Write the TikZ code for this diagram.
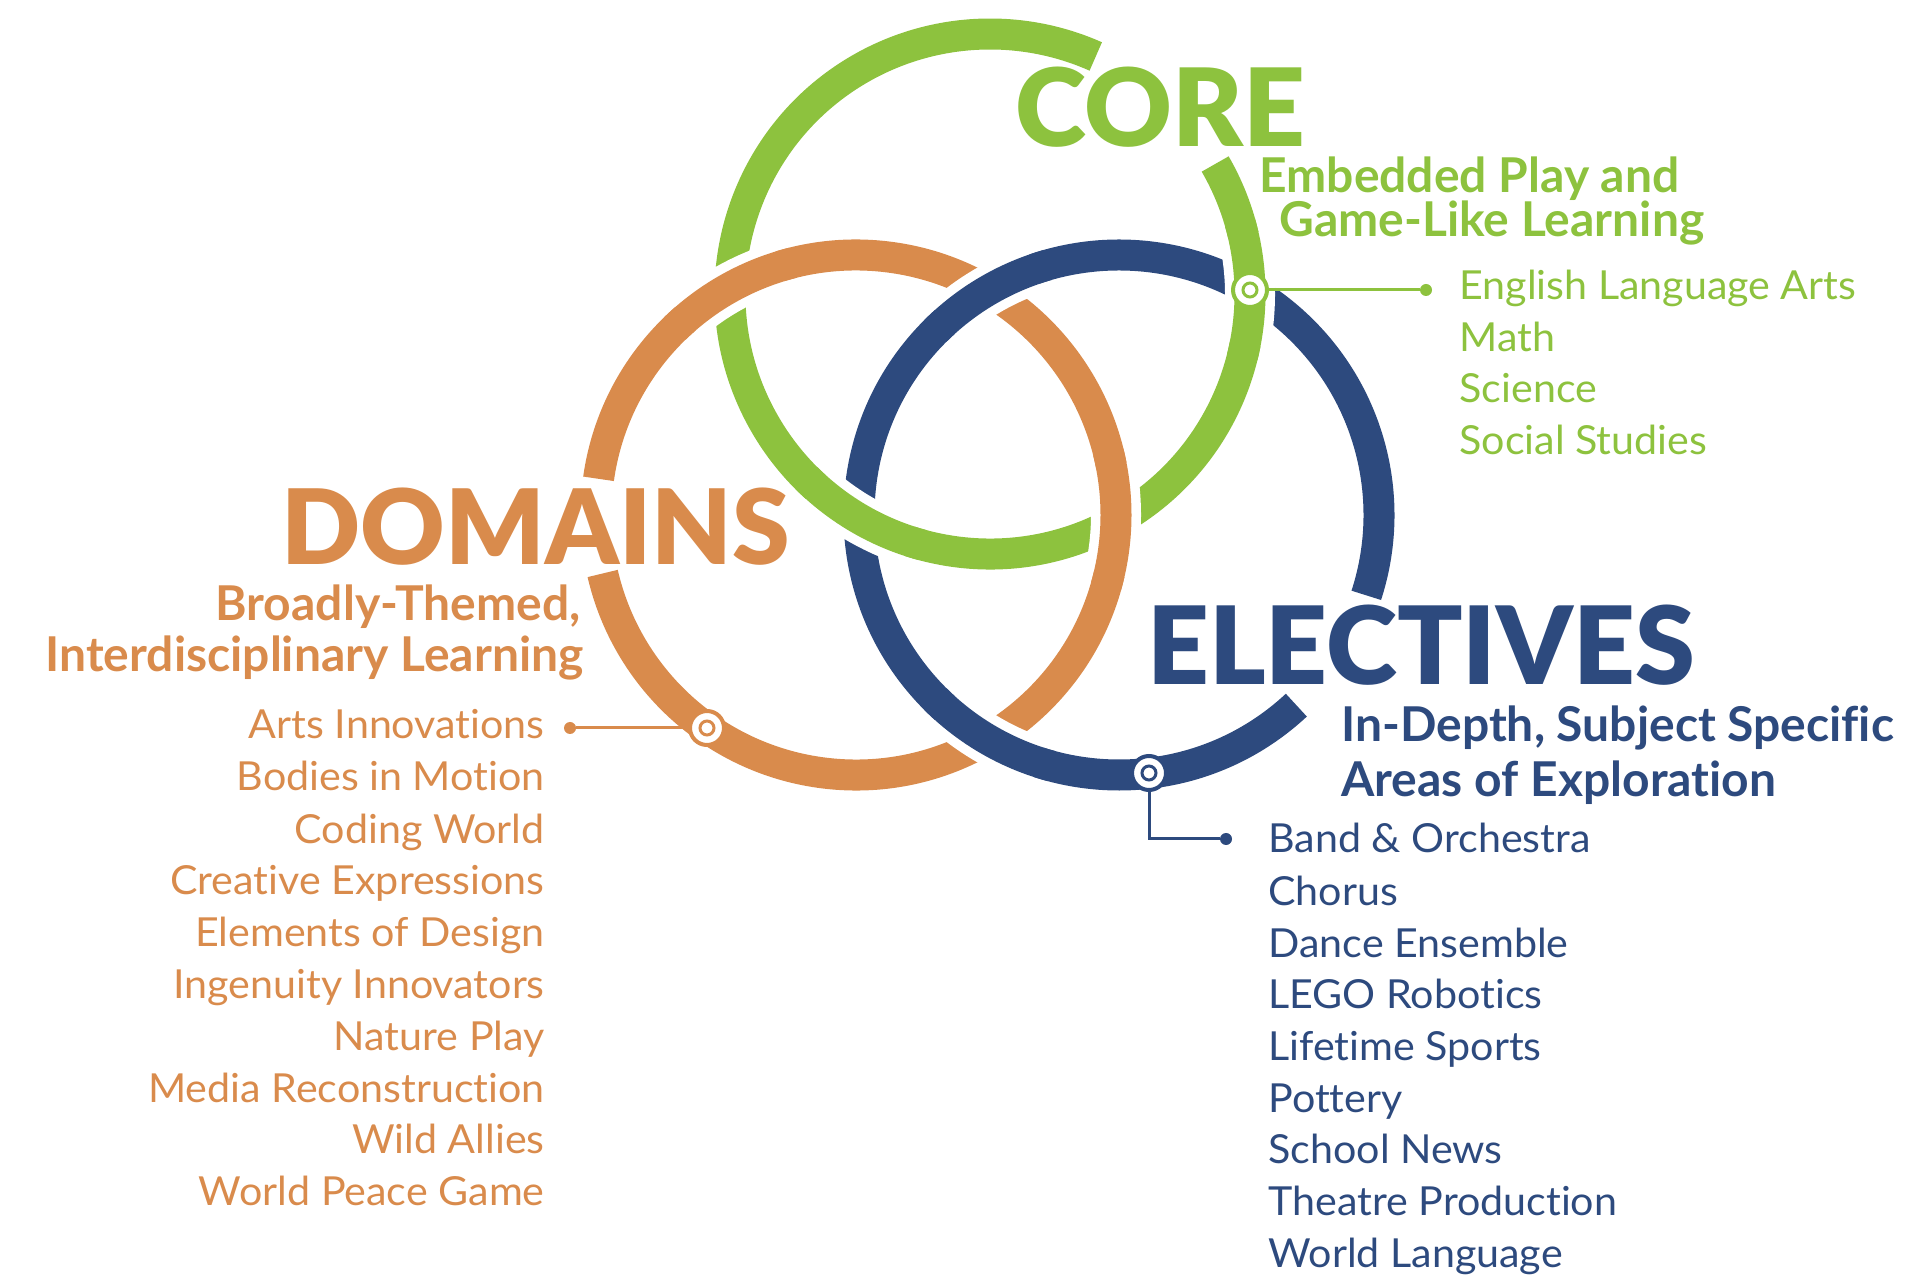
\documentclass[tikz,border=0pt]{standalone}
\usepackage{fontspec}
\newfontfamily\headfont{Lato Black}
\newfontfamily\bodyfont{Lato}[Ligatures=NoCommon]
\newfontfamily\listfont{Lato}[Ligatures=NoCommon, FakeStretch=1.03]
\definecolor{coregreen}{RGB}{141,194,62}
\definecolor{domorange}{RGB}{217,139,76}
\definecolor{elecblue}{RGB}{45,74,126}
\tikzset{
  ring/.style={line width=15.5pt},
  casing/.style={white, line width=25pt},
  hub/.style={circle, draw=#1, fill=white, line width=2pt, minimum size=17pt, inner sep=0pt,
    path picture={\draw[#1, line width=1.5pt] (path picture bounding box.center) circle[radius=3.5pt];}},
  enddot/.style={circle, fill=#1, minimum size=6pt, inner sep=0pt},
  link/.style={#1, line width=1.5pt},
  headline/.style={text=#1, font=\headfont\fontsize{54}{54}\selectfont, inner sep=0pt},
  tagline/.style={text=#1, font=\bodyfont\bfseries\fontsize{24}{24}\selectfont, inner sep=0pt},
  entry/.style={text=#1, font=\listfont\fontsize{20}{20}\selectfont, inner sep=0pt},
}
\begin{document}
\begin{tikzpicture}[x=0.5pt, y=-0.5pt]
\useasboundingbox (0,0) rectangle (1917,1277);
\coordinate (G) at (990,294);
\coordinate (O) at (856,515);
\coordinate (B) at (1119,515);

% rings, left open where the headings sit
\draw[ring, coregreen] (G) ++(-30:260) arc[start angle=-30, end angle=294, radius=260];
\draw[ring, domorange] (O) ++(188:260) arc[start angle=188, end angle=527, radius=260];
\draw[ring, elecblue] (B) ++(47:260) arc[start angle=47, end angle=378, radius=260];

% over-crossings (white gap, then the ring again a bit longer)
\draw[casing] (O) ++(229:260) arc[start angle=229, end angle=253, radius=260];
\draw[ring, domorange] (O) ++(226:260) arc[start angle=226, end angle=256, radius=260];
\draw[casing] (O) ++(-11:260) arc[start angle=-11, end angle=13, radius=260];
\draw[ring, domorange] (O) ++(-14:260) arc[start angle=-14, end angle=16, radius=260];
\draw[casing] (G) ++(-13:260) arc[start angle=-13, end angle=11, radius=260];
\draw[ring, coregreen] (G) ++(-16:260) arc[start angle=-16, end angle=14, radius=260];
\draw[casing] (G) ++(108:260) arc[start angle=108, end angle=132, radius=260];
\draw[ring, coregreen] (G) ++(105:260) arc[start angle=105, end angle=135, radius=260];
\draw[casing] (B) ++(228:260) arc[start angle=228, end angle=251, radius=260];
\draw[ring, elecblue] (B) ++(225:260) arc[start angle=225, end angle=254, radius=260];
\draw[casing] (B) ++(108:260) arc[start angle=108, end angle=132, radius=260];
\draw[ring, elecblue] (B) ++(105:260) arc[start angle=105, end angle=135, radius=260];

% markers and leaders
\node[hub=coregreen] (gm) at (1250,290) {};
\node[hub=domorange] (om) at (707,728) {};
\node[hub=elecblue] (bm) at (1149,773) {};
\node[enddot=coregreen] (gd) at (1426,290) {};
\node[enddot=domorange] (od) at (570,728) {};
\node[enddot=elecblue] (bd) at (1226,839) {};
\draw[link=coregreen] (gm) -- (gd);
\draw[link=domorange] (om) -- (od);
\draw[link=elecblue] (bm) |- (bd);

% headings
\node[headline=coregreen, anchor=base west] (core) at (1015,147) {CORE};
\node[tagline=coregreen, anchor=base west] (core1) at (1259,193) {Embedded Play and};
\node[tagline=coregreen, anchor=base west] (core2) at (1279,237) {Game-Like Learning};
\node[headline=domorange, anchor=base west, font=\headfont\fontsize{52}{52}\selectfont] (dom) at (281,565) {DOMAINS};
\node[tagline=domorange, anchor=base east] (dom1) at (581,621) {Broadly-Themed,};
\node[tagline=domorange, anchor=base east] (dom2) at (584,672) {Interdisciplinary Learning};
\node[headline=elecblue, anchor=base west] (elec) at (1147,685) {ELECTIVES};
\node[tagline=elecblue, anchor=base west] (elec1) at (1341,742) {In-Depth, Subject Specific};
\node[tagline=elecblue, anchor=base west] (elec2) at (1341,797) {Areas of Exploration};

% core subjects
\node[entry=coregreen, anchor=base west] (g1) at (1459,300) {English Language Arts};
\node[entry=coregreen, anchor=base west] (g2) at (1459,352) {Math};
\node[entry=coregreen, anchor=base west] (g3) at (1459,403) {Science};
\node[entry=coregreen, anchor=base west] (g4) at (1459,455) {Social Studies};

% domains
\node[entry=domorange, anchor=base east] (d1) at (545,739) {Arts Innovations};
\node[entry=domorange, anchor=base east] (d2) at (545,791) {Bodies in Motion};
\node[entry=domorange, anchor=base east] (d3) at (545,843) {Coding World};
\node[entry=domorange, anchor=base east] (d4) at (545,894) {Creative Expressions};
\node[entry=domorange, anchor=base east] (d5) at (545,946) {Elements of Design};
\node[entry=domorange, anchor=base east] (d6) at (545,998) {Ingenuity Innovators};
\node[entry=domorange, anchor=base east] (d7) at (545,1050) {Nature Play};
\node[entry=domorange, anchor=base east] (d8) at (545,1102) {Media Reconstruction};
\node[entry=domorange, anchor=base east] (d9) at (545,1153) {Wild Allies};
\node[entry=domorange, anchor=base east] (d10) at (545,1205) {World Peace Game};

% electives
\node[entry=elecblue, anchor=base west] (e1) at (1268,853) {Band \& Orchestra};
\node[entry=elecblue, anchor=base west] (e2) at (1268,905) {Chorus};
\node[entry=elecblue, anchor=base west] (e3) at (1268,957) {Dance Ensemble};
\node[entry=elecblue, anchor=base west] (e4) at (1268,1008) {LEGO Robotics};
\node[entry=elecblue, anchor=base west] (e5) at (1268,1060) {Lifetime Sports};
\node[entry=elecblue, anchor=base west] (e6) at (1268,1112) {Pottery};
\node[entry=elecblue, anchor=base west] (e7) at (1268,1163) {School News};
\node[entry=elecblue, anchor=base west] (e8) at (1268,1215) {Theatre Production};
\node[entry=elecblue, anchor=base west] (e9) at (1268,1267) {World Language};
\end{tikzpicture}
\end{document}
